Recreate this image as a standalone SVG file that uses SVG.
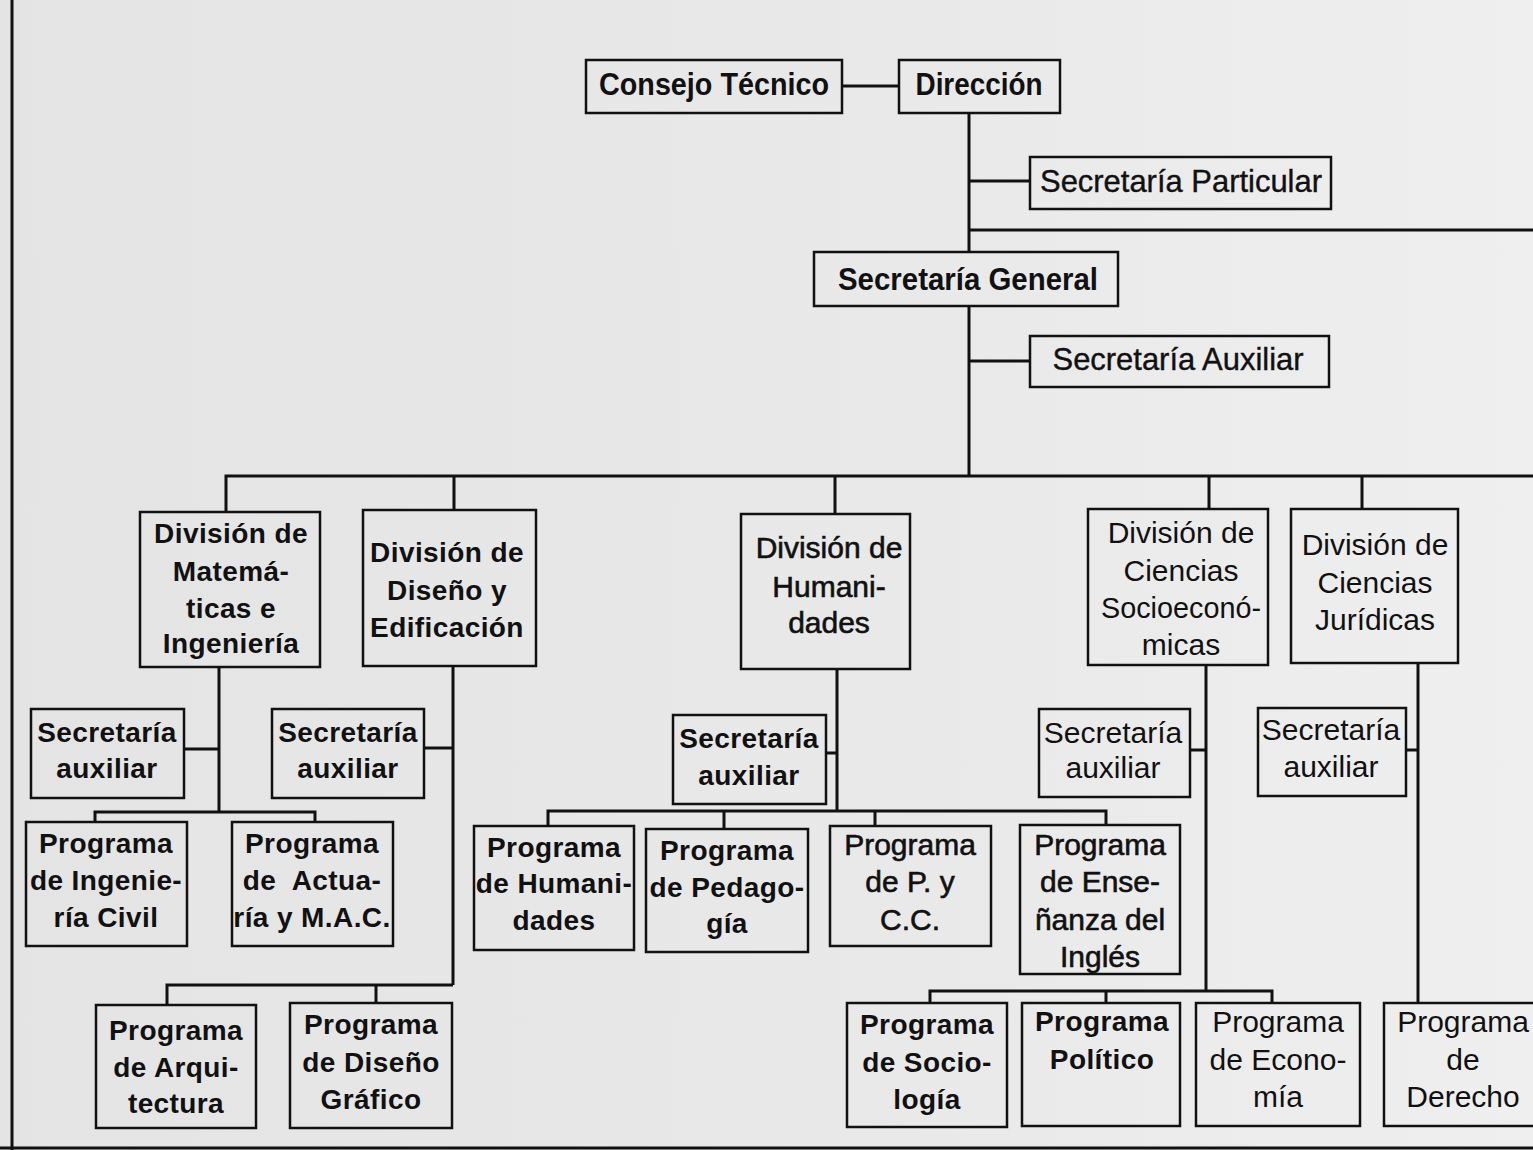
<svg xmlns="http://www.w3.org/2000/svg" width="1533" height="1150" viewBox="0 0 1533 1150">
<defs>
<linearGradient id="bg" x1="0" y1="0" x2="1" y2="0">
<stop offset="0" stop-color="#e4e4e4"/>
<stop offset="0.6" stop-color="#e9e9e9"/>
<stop offset="1" stop-color="#efefef"/>
</linearGradient>
<style>
.box{fill:none;stroke:#111;stroke-width:2.5}
.ln{fill:none;stroke:#111;stroke-width:3}
text{font-family:"Liberation Sans",Arial,Helvetica,sans-serif;text-anchor:middle;fill:#111}
.b{font-weight:bold;font-size:28px;letter-spacing:0.4px}
.r{font-weight:normal;font-size:30px}
.m{font-weight:normal;font-size:30px;stroke:#111;stroke-width:0.6}
.t{font-weight:bold;font-size:32px}
.tr{font-weight:normal;font-size:32px;stroke:#111;stroke-width:0.4}
</style>
</defs>
<rect x="0" y="0" width="1533" height="1150" fill="url(#bg)"/>

<g id="connectors">
<line class="ln" x1="12" y1="0" x2="12" y2="1150"/>
<line class="ln" x1="0" y1="1148" x2="1533" y2="1148"/>
<line class="ln" x1="842" y1="86" x2="899" y2="86"/>
<line class="ln" x1="969" y1="113" x2="969" y2="252"/>
<line class="ln" x1="969" y1="306" x2="969" y2="476"/>
<line class="ln" x1="969" y1="181" x2="1030" y2="181"/>
<line class="ln" x1="969" y1="230" x2="1533" y2="230"/>
<line class="ln" x1="969" y1="361" x2="1030" y2="361"/>
<polyline class="ln" points="226,512 226,476 1533,476"/>
<line class="ln" x1="454" y1="476" x2="454" y2="510"/>
<line class="ln" x1="835" y1="476" x2="835" y2="514"/>
<line class="ln" x1="1209" y1="476" x2="1209" y2="509"/>
<line class="ln" x1="1362" y1="476" x2="1362" y2="509"/>
<line class="ln" x1="219" y1="667" x2="219" y2="812"/>
<line class="ln" x1="184" y1="749" x2="219" y2="749"/>
<polyline class="ln" points="95,822 95,812 315,812 315,822"/>
<line class="ln" x1="453" y1="666" x2="453" y2="985"/>
<line class="ln" x1="424" y1="748" x2="453" y2="748"/>
<polyline class="ln" points="167,1005 167,985 453,985"/>
<line class="ln" x1="376" y1="985" x2="376" y2="1003"/>
<line class="ln" x1="837" y1="669" x2="837" y2="811"/>
<line class="ln" x1="826" y1="753" x2="837" y2="753"/>
<polyline class="ln" points="548,826 548,811 1106,811 1106,825"/>
<line class="ln" x1="724" y1="811" x2="724" y2="829"/>
<line class="ln" x1="875" y1="811" x2="875" y2="826"/>
<line class="ln" x1="1206" y1="665" x2="1206" y2="991"/>
<line class="ln" x1="1190" y1="750" x2="1206" y2="750"/>
<polyline class="ln" points="930,1003 930,991 1272,991 1272,1003"/>
<line class="ln" x1="1106" y1="991" x2="1106" y2="1003"/>
<line class="ln" x1="1418" y1="663" x2="1418" y2="1003"/>
<line class="ln" x1="1406" y1="750" x2="1418" y2="750"/>
</g>

<g id="consejo"><rect class="box" x="586" y="60" width="256" height="53"/><text class="t" x="714" y="95" textLength="230" lengthAdjust="spacingAndGlyphs">Consejo Técnico</text></g>
<g id="direccion"><rect class="box" x="899" y="60" width="161" height="53"/><text class="t" x="979" y="95" textLength="127" lengthAdjust="spacingAndGlyphs">Dirección</text></g>
<g id="sec-particular"><rect class="box" x="1030" y="157" width="301" height="52"/><text class="tr" x="1181" y="192" textLength="282" lengthAdjust="spacingAndGlyphs">Secretaría Particular</text></g>
<g id="sec-general"><rect class="box" x="814" y="252" width="304" height="54"/><text class="t" x="968" y="290" textLength="260" lengthAdjust="spacingAndGlyphs">Secretaría General</text></g>
<g id="sec-auxiliar"><rect class="box" x="1030" y="336" width="299" height="51"/><text class="tr" x="1178" y="370" textLength="251" lengthAdjust="spacingAndGlyphs">Secretaría Auxiliar</text></g>

<g id="div-matematicas"><rect class="box" x="140" y="512" width="180" height="155"/>
<text class="b" x="231" y="543">División de</text><text class="b" x="231" y="581">Matemá-</text><text class="b" x="231" y="618">ticas e</text><text class="b" x="231" y="653">Ingeniería</text></g>
<g id="div-diseno"><rect class="box" x="363" y="510" width="173" height="156"/>
<text class="b" x="447" y="562">División de</text><text class="b" x="447" y="600">Diseño y</text><text class="b" x="447" y="637">Edificación</text></g>
<g id="div-humanidades"><rect class="box" x="741" y="514" width="169" height="155"/>
<text class="m" x="829" y="558">División de</text><text class="m" x="829" y="597">Humani-</text><text class="m" x="829" y="633">dades</text></g>
<g id="div-socio"><rect class="box" x="1088" y="509" width="180" height="156"/>
<text class="r" x="1181" y="543">División de</text><text class="r" x="1181" y="581">Ciencias</text><text class="r" x="1181" y="618" textLength="160" lengthAdjust="spacingAndGlyphs">Socioeconó-</text><text class="r" x="1181" y="655">micas</text></g>
<g id="div-juridicas"><rect class="box" x="1291" y="509" width="167" height="154"/>
<text class="r" x="1375" y="555">División de</text><text class="r" x="1375" y="593">Ciencias</text><text class="r" x="1375" y="630">Jurídicas</text></g>

<g id="secaux-mat"><rect class="box" x="31" y="709" width="153" height="89"/><text class="b" x="107" y="742">Secretaría</text><text class="b" x="107" y="778">auxiliar</text></g>
<g id="secaux-dis"><rect class="box" x="272" y="709" width="152" height="89"/><text class="b" x="348" y="742">Secretaría</text><text class="b" x="348" y="778">auxiliar</text></g>
<g id="secaux-hum"><rect class="box" x="673" y="715" width="153" height="89"/><text class="b" x="749" y="748">Secretaría</text><text class="b" x="749" y="785">auxiliar</text></g>
<g id="secaux-socio"><rect class="box" x="1039" y="709" width="151" height="88"/><text class="r" x="1113" y="743">Secretaría</text><text class="r" x="1113" y="778">auxiliar</text></g>
<g id="secaux-jur"><rect class="box" x="1258" y="708" width="148" height="88"/><text class="r" x="1331" y="740">Secretaría</text><text class="r" x="1331" y="777">auxiliar</text></g>

<g id="prog-ingcivil"><rect class="box" x="26" y="822" width="161" height="124"/><text class="b" x="106" y="853">Programa</text><text class="b" x="106" y="890">de Ingenie-</text><text class="b" x="106" y="927">ría Civil</text></g>
<g id="prog-actuaria"><rect class="box" x="232" y="822" width="161" height="124"/><text class="b" x="312" y="853">Programa</text><text class="b" x="312" y="890" xml:space="preserve">de  Actua-</text><text class="b" x="312" y="927">ría y M.A.C.</text></g>
<g id="prog-arquitectura"><rect class="box" x="96" y="1005" width="160" height="123"/><text class="b" x="176" y="1040">Programa</text><text class="b" x="176" y="1077">de Arqui-</text><text class="b" x="176" y="1113">tectura</text></g>
<g id="prog-disgrafico"><rect class="box" x="290" y="1003" width="162" height="125"/><text class="b" x="371" y="1034">Programa</text><text class="b" x="371" y="1072">de Diseño</text><text class="b" x="371" y="1109">Gráfico</text></g>
<g id="prog-humanidades"><rect class="box" x="474" y="826" width="160" height="124"/><text class="b" x="554" y="857">Programa</text><text class="b" x="554" y="893">de Humani-</text><text class="b" x="554" y="930">dades</text></g>
<g id="prog-pedagogia"><rect class="box" x="646" y="829" width="162" height="123"/><text class="b" x="727" y="860">Programa</text><text class="b" x="727" y="897">de Pedago-</text><text class="b" x="727" y="933">gía</text></g>
<g id="prog-pycc"><rect class="box" x="830" y="826" width="161" height="120"/><text class="m" x="910" y="855">Programa</text><text class="m" x="910" y="892">de P. y</text><text class="m" x="910" y="930">C.C.</text></g>
<g id="prog-ingles"><rect class="box" x="1020" y="825" width="160" height="149"/><text class="m" x="1100" y="855">Programa</text><text class="m" x="1100" y="892">de Ense-</text><text class="m" x="1100" y="930">ñanza del</text><text class="m" x="1100" y="967">Inglés</text></g>
<g id="prog-sociologia"><rect class="box" x="847" y="1003" width="160" height="124"/><text class="b" x="927" y="1034">Programa</text><text class="b" x="927" y="1072">de Socio-</text><text class="b" x="927" y="1109">logía</text></g>
<g id="prog-politico"><rect class="box" x="1022" y="1003" width="158" height="123"/><text class="b" x="1102" y="1031">Programa</text><text class="b" x="1102" y="1069">Político</text></g>
<g id="prog-economia"><rect class="box" x="1196" y="1003" width="164" height="123"/><text class="r" x="1278" y="1032">Programa</text><text class="r" x="1278" y="1070">de Econo-</text><text class="r" x="1278" y="1107">mía</text></g>
<g id="prog-derecho"><rect class="box" x="1384" y="1003" width="160" height="123"/><text class="r" x="1463" y="1032">Programa</text><text class="r" x="1463" y="1070">de</text><text class="r" x="1463" y="1107">Derecho</text></g>
</svg>
